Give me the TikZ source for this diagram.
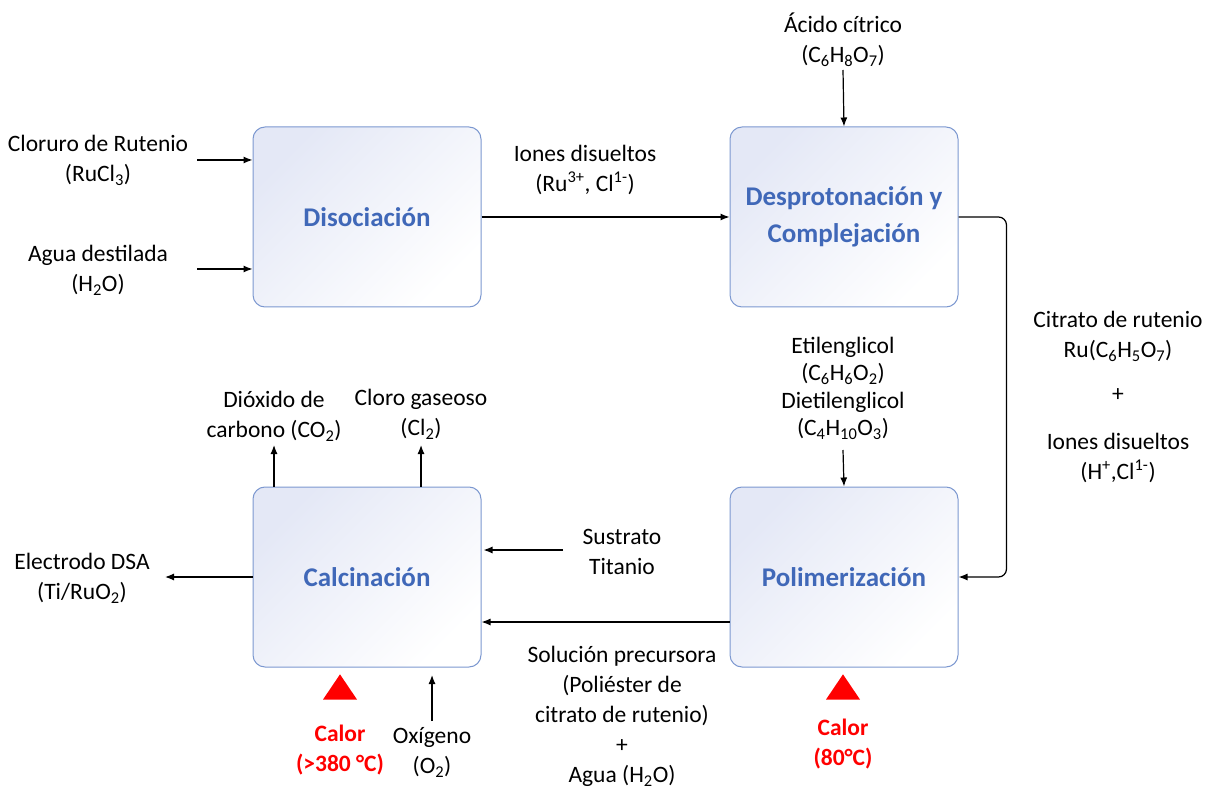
\documentclass[tikz,border=0pt]{standalone}
\usepackage{fontspec}
\setmainfont{Carlito}
\usetikzlibrary{arrows.meta,shapes.geometric}
\definecolor{boxline}{RGB}{124,152,208}
\definecolor{boxfill}{RGB}{228,232,246}
\definecolor{boxtext}{RGB}{64,104,184}
\definecolor{heat}{RGB}{255,0,0}
\tikzset{
  stage/.style={draw=boxline, line width=1pt, rounded corners=12pt,
    top color=boxfill, bottom color=white, shading angle=45,
    minimum width=228pt, minimum height=180pt, align=center,
    text=boxtext, font=\fontsize{27}{37}\selectfont\bfseries},
  lbl/.style={align=center, inner sep=0pt, font=\fontsize{23.5}{30}\selectfont},
  heatlbl/.style={lbl, text=heat, font=\fontsize{23.5}{30}\selectfont\bfseries},
  arr/.style={line width=1.2pt, -{Latex[length=9pt,width=7pt]}},
  flame/.style={isosceles triangle, isosceles triangle apex angle=68, shape border rotate=90,
    fill=heat, draw=none, inner sep=0pt, minimum height=25pt}
}
\begin{document}
\begin{tikzpicture}[x=1pt,y=-1pt]
\useasboundingbox (0,0) rectangle (1205,791);

% process stages
\node[stage] (diso) at (367,217) {Disociación};
\node[stage] (desp) at (844,217) {Desprotonación y\\Complejación};
\node[stage] (calc) at (367,577) {Calcinación};
\node[stage] (poli) at (844,577) {Polimerización};

% reagents and products
\node[lbl] (rucl) at (98,160.5) {Cloruro de Rutenio\\(RuCl\textsubscript{3})};
\node[lbl] (agua) at (98,270) {Agua destilada\\(H\textsubscript{2}O)};
\node[lbl] (iones) at (585,170) {Iones disueltos\\(Ru\textsuperscript{3+}, Cl\textsuperscript{1-})};
\node[lbl] (acido) at (843,40) {Ácido cítrico\\(C\textsubscript{6}H\textsubscript{8}O\textsubscript{7})};
\node[lbl] (citr) at (1118,336.5) {Citrato de rutenio\\Ru(C\textsubscript{6}H\textsubscript{5}O\textsubscript{7})};
\node[lbl] (plus1) at (1118,395) {+};
\node[lbl] (iones2) at (1118,457.5) {Iones disueltos\\(H\textsuperscript{+},Cl\textsuperscript{1-})};
\node[lbl, font=\fontsize{23.5}{27.5}\selectfont] (glic) at (843,388.5) {Etilenglicol\\(C\textsubscript{6}H\textsubscript{6}O\textsubscript{2})\\Dietilenglicol\\(C\textsubscript{4}H\textsubscript{10}O\textsubscript{3})};
\node[lbl] (sust) at (622,552) {Sustrato\\Titanio};
\node[lbl] (sol) at (622,716.5) {Solución precursora\\(Poliéster de\\citrato de rutenio)\\+\\Agua (H\textsubscript{2}O)};
\node[lbl] (dsa) at (82,578.5) {Electrodo DSA\\(Ti/RuO\textsubscript{2})};
\node[lbl] (co2) at (274,416) {Dióxido de\\carbono (CO\textsubscript{2})};
\node[lbl] (cl2) at (421,414) {Cloro gaseoso\\(Cl\textsubscript{2})};
\node[lbl] (oxi) at (432,752.5) {Oxígeno\\(O\textsubscript{2})};

% heat inputs
\node[flame, minimum width=34pt] (heat1) at (340,690.5) {};
\node[heatlbl] (calor1) at (340,750) {Calor\\(>380 \textdegree C)};
\node[flame, minimum width=34pt] (heat2) at (843,690.5) {};
\node[heatlbl] (calor2) at (843,744.5) {Calor\\(80\textdegree C)};

% free ends of the feed lines
\coordinate (inRu) at (197,160);
\coordinate (inAg) at (197,269);
\coordinate (inAc) at (843,70);
\coordinate (inGl) at (843,450);
\coordinate (inTi) at (563,550);
\coordinate (outDSA) at (165,577);
\coordinate (outCO) at (274,445);
\coordinate (outCl) at (421,445);
\coordinate (inOx) at (432,721);
\coordinate (inOxTip) at (432,675);

% connectors
\draw[arr] (inRu) -- (inRu -| diso.west);
\draw[arr] (inAg) -- (inAg -| diso.west);
\draw[arr] (diso) -- (desp);
\draw[arr] (inAc) -- (desp.north);
\draw[arr, rounded corners=8pt] (desp.east) -- ++(48,0) |- (poli.east);
\draw[arr] (inGl) -- (poli.north);
\draw[arr] ([yshift=-45pt]poli.west) -- ([yshift=-45pt]calc.east);
\draw[arr] (inTi) -- ([xshift=2pt]inTi -| calc.east);
\draw[arr] (calc.west) -- (outDSA);
\draw[arr] (outCO |- calc.north) -- (outCO);
\draw[arr] (outCl |- calc.north) -- (outCl);
\draw[arr] (inOx) -- (inOxTip);
\end{tikzpicture}
\end{document}
